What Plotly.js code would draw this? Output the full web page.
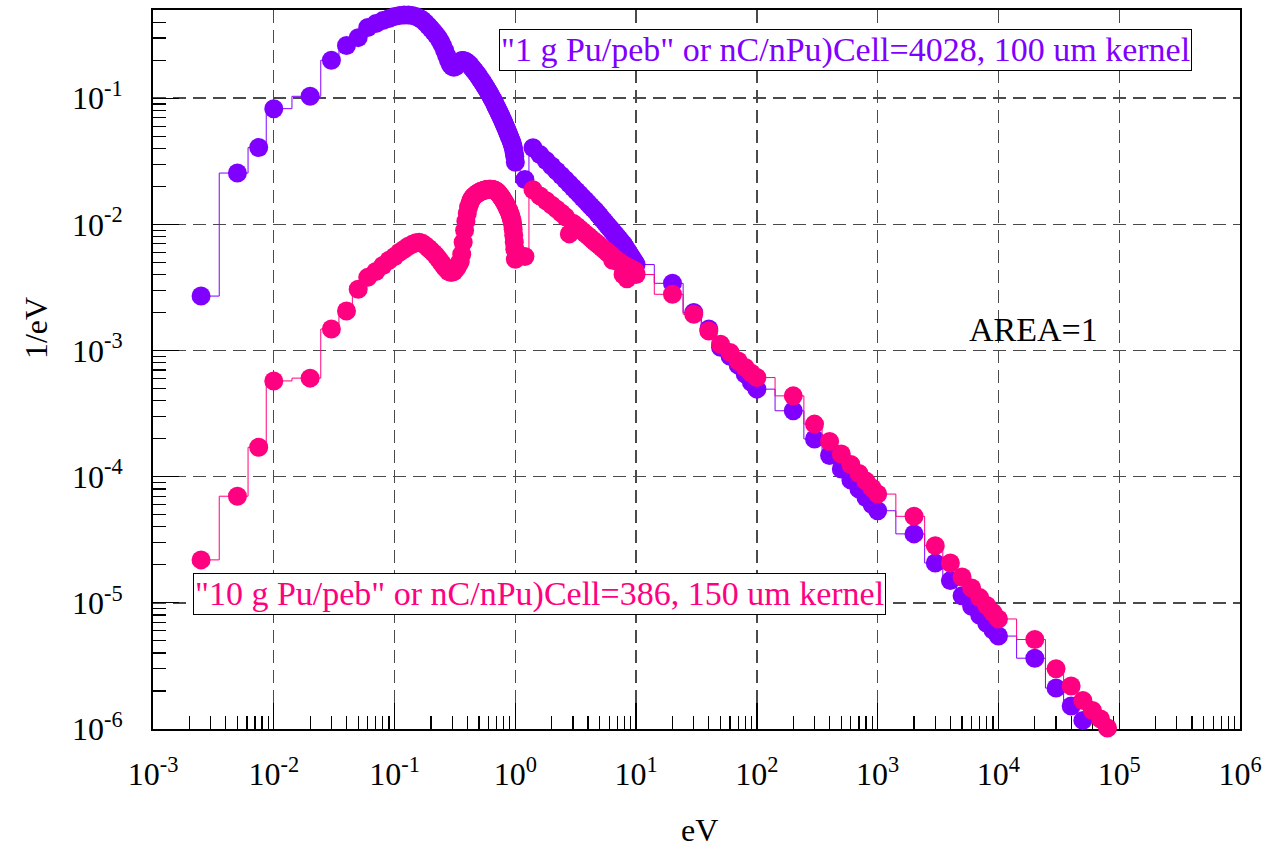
<!DOCTYPE html>
<html>
<head>
<meta charset="utf-8">
<script src="https://cdn.plot.ly/plotly-3.0.1.min.js"></script>
<style>
  html, body { margin: 0; padding: 0; background: #ffffff; }
  #chart { width: 1265px; height: 850px; }
</style>
</head>
<body>
<div id="chart"></div>
<script>
// Neutron flux spectra per unit energy (1/eV), normalised to unit area.
// Energy grid, split into the coarse, thermal, resonance and fast sections (eV).
const energyCoarse = [0.0025, 0.005, 0.0075, 0.01, 0.02, 0.03, 0.04];
const energyThermal = [
  0.05, 0.06, 0.07, 0.08, 0.09, 0.10, 0.11, 0.12, 0.13, 0.14,
  0.15, 0.16, 0.17, 0.18, 0.19, 0.20, 0.21, 0.22, 0.23, 0.24,
  0.25, 0.26, 0.27, 0.28, 0.29, 0.30, 0.31, 0.32, 0.33, 0.34,
  0.35, 0.36, 0.37, 0.38, 0.39, 0.40, 0.41, 0.42, 0.43, 0.44,
  0.45, 0.46, 0.47, 0.48, 0.49, 0.50, 0.51, 0.52, 0.53, 0.54,
  0.55, 0.56, 0.57, 0.58, 0.59, 0.60, 0.61, 0.62, 0.63, 0.64,
  0.65, 0.66, 0.67, 0.68, 0.69, 0.70, 0.71, 0.72, 0.73, 0.74,
  0.75, 0.76, 0.77, 0.78, 0.79, 0.80, 0.81, 0.82, 0.83, 0.84,
  0.85, 0.86, 0.87, 0.88, 0.89, 0.90, 0.91, 0.92, 0.93, 0.94,
  0.95, 0.96, 0.97, 0.98, 0.99, 1.00
];
const energyResonance = [
  1.2, 1.4, 1.6, 1.8, 2.0, 2.2, 2.4, 2.6, 2.8, 3.0,
  3.2, 3.4, 3.6, 3.8, 4.0, 4.2, 4.4, 4.6, 4.8, 5.0,
  5.2, 5.4, 5.6, 5.8, 6.0, 6.2, 6.4, 6.6, 6.8, 7.0,
  7.2, 7.4, 7.6, 7.8, 8.0, 8.2, 8.4, 8.6, 8.8, 9.0,
  9.2, 9.4, 9.6, 9.8, 10.0
];
const energyFast = [
  20, 30, 40, 50, 60, 70, 80, 90, 100,
  200, 300, 400, 500, 600, 700, 800, 900, 1000,
  2000, 3000, 4000, 5000, 6000, 7000, 8000, 9000, 10000,
  20000, 30000, 40000, 50000, 60000, 70000, 80000
];

// "1 g Pu/peb", nC/nPu = 4028, 100 um kernel
const flux1gCoarse = [2.70e-3, 0.0255, 0.0406, 0.0826, 0.1035, 0.200, 0.262];
const flux1gThermal = [
  0.302, 0.363, 0.390, 0.412, 0.428, 0.444, 0.452, 0.456, 0.456, 0.452,
  0.444, 0.432, 0.416, 0.397, 0.375, 0.356, 0.337, 0.319, 0.302, 0.281,
  0.261, 0.239, 0.218, 0.199, 0.185, 0.178, 0.176, 0.178, 0.183, 0.190,
  0.195, 0.199, 0.199, 0.197, 0.195, 0.191, 0.188, 0.183, 0.178, 0.173,
  0.169, 0.164, 0.160, 0.156, 0.152, 0.147, 0.143, 0.139, 0.136, 0.132,
  0.128, 0.125, 0.122, 0.118, 0.115, 0.112, 0.109, 0.106, 0.103, 0.100,
  0.0977, 0.0951, 0.0926, 0.0891, 0.0867, 0.0844, 0.0821, 0.0799, 0.0778, 0.0757,
  0.0737, 0.0717, 0.0698, 0.0678, 0.0660, 0.0642, 0.0625, 0.0608, 0.0592, 0.0576,
  0.0560, 0.0545, 0.0530, 0.0516, 0.0502, 0.0489, 0.0476, 0.0463, 0.0451, 0.0438,
  0.0422, 0.0407, 0.0389, 0.0368, 0.0345, 0.0310
];
const flux1gResonance = [
  0.0227, 0.0405, 0.0357, 0.0320, 0.0290, 0.0265, 0.0244, 0.0226, 0.0210, 0.0196,
  0.0184, 0.0173, 0.0163, 0.0155, 0.0147, 0.0140, 0.01335, 0.0128, 0.0122, 0.01165,
  0.0111, 0.01066, 0.0102, 0.0098, 0.00945, 0.0091, 0.00878, 0.00848, 0.0082, 0.0079,
  0.00767, 0.00743, 0.0072, 0.0070, 0.00674, 0.0065, 0.00625, 0.00603, 0.00583, 0.00563,
  0.00545, 0.00527, 0.0051, 0.00495, 0.0048
];
const flux1gFast = [
  3.41e-3, 2.00e-3, 1.48e-3, 1.06e-3, 9.00e-4, 7.66e-4, 6.50e-4, 5.60e-4, 4.94e-4,
  3.33e-4, 1.99e-4, 1.47e-4, 1.15e-4, 9.40e-5, 7.98e-5, 6.83e-5, 6.01e-5, 5.37e-5,
  3.52e-5, 2.07e-5, 1.50e-5, 1.14e-5, 9.38e-6, 7.96e-6, 6.89e-6, 6.10e-6, 5.45e-6,
  3.64e-6, 2.11e-6, 1.52e-6, 1.17e-6
];

// "10 g Pu/peb", nC/nPu = 386, 150 um kernel
const flux10gCoarse = [2.19e-5, 7.0e-5, 1.71e-4, 5.74e-4, 6.04e-4, 1.48e-3, 2.06e-3];
const flux10gThermal = [
  0.00306, 0.00380, 0.00423, 0.00472, 0.00519, 0.00557, 0.00600, 0.00634, 0.00670, 0.00694,
  0.00715, 0.00722, 0.00707, 0.00681, 0.00650, 0.00622, 0.00594, 0.00566, 0.00536, 0.00507,
  0.00482, 0.00456, 0.00440, 0.00423, 0.00417, 0.00417, 0.00423, 0.00440, 0.00456, 0.00482,
  0.00507, 0.00579, 0.00722, 0.00896, 0.0106, 0.0122, 0.0137, 0.0146, 0.0155, 0.0161,
  0.0166, 0.0169, 0.0172, 0.0175, 0.0177, 0.0179, 0.0181, 0.0183, 0.0184, 0.0185,
  0.0186, 0.0187, 0.0188, 0.0189, 0.0189, 0.0190, 0.0190, 0.0190, 0.0190, 0.0189,
  0.0189, 0.0188, 0.0187, 0.0186, 0.0184, 0.0182, 0.0180, 0.0178, 0.0175, 0.0172,
  0.0169, 0.0166, 0.0163, 0.0160, 0.0157, 0.0154, 0.0151, 0.0148, 0.0145, 0.0142,
  0.0139, 0.0135, 0.0132, 0.0129, 0.0126, 0.0122, 0.0118, 0.0114, 0.0110, 0.0106,
  0.0100, 0.00913, 0.00818, 0.00722, 0.00634, 0.00528
];
const flux10gResonance = [
  0.00557, 0.0188, 0.0168, 0.0154, 0.0142, 0.0132, 0.0123, 0.0115, 0.0084, 0.0102,
  0.0097, 0.00925, 0.00883, 0.00844, 0.0081, 0.00778, 0.00749, 0.00722, 0.00698, 0.00675,
  0.00654, 0.00634, 0.00616, 0.00599, 0.00583, 0.00568, 0.0052, 0.0054, 0.00527, 0.00515,
  0.00504, 0.00493, 0.00485, 0.0040, 0.00473, 0.00466, 0.0037, 0.00455, 0.0045, 0.00444,
  0.00439, 0.00435, 0.0043, 0.00425, 0.0040
];
const flux10gFast = [
  2.79e-3, 1.94e-3, 1.43e-3, 1.12e-3, 9.63e-4, 8.27e-4, 7.33e-4, 6.60e-4, 6.10e-4,
  4.37e-4, 2.61e-4, 1.90e-4, 1.51e-4, 1.25e-4, 1.06e-4, 9.22e-5, 8.12e-5, 7.28e-5,
  4.85e-5, 2.84e-5, 2.07e-5, 1.60e-5, 1.31e-5, 1.10e-5, 9.53e-6, 8.37e-6, 7.45e-6,
  5.12e-6, 3.00e-6, 2.19e-6, 1.68e-6, 1.40e-6, 1.20e-6, 1.02e-6
];

const seriesNames = [
  '"1 g Pu/peb" or nC/nPu)Cell=4028, 100 um kernel',
  '"10 g Pu/peb" or nC/nPu)Cell=386, 150 um kernel'
];
const seriesColors = ['#8000ff', '#ff0080'];

const xTickVals = [1e-3, 1e-2, 1e-1, 1e0, 1e1, 1e2, 1e3, 1e4, 1e5, 1e6];
const xTickText = ['10<sup>-3</sup>', '10<sup>-2</sup>', '10<sup>-1</sup>', '10<sup>0</sup>',
  '10<sup>1</sup>', '10<sup>2</sup>', '10<sup>3</sup>', '10<sup>4</sup>', '10<sup>5</sup>', '10<sup>6</sup>'];
const yTickVals = [1e-6, 1e-5, 1e-4, 1e-3, 1e-2, 1e-1];
const yTickText = ['10<sup>-6</sup>', '10<sup>-5</sup>', '10<sup>-4</sup>', '10<sup>-3</sup>',
  '10<sup>-2</sup>', '10<sup>-1</sup>'];

const energy = [].concat(energyCoarse, energyThermal, energyResonance, energyFast);
const flux1g = [].concat(flux1gCoarse, flux1gThermal, flux1gResonance, flux1gFast);
const flux10g = [].concat(flux10gCoarse, flux10gThermal, flux10gResonance, flux10gFast);

const FONT = 'Liberation Serif, Times New Roman, serif';

function spectrum(values, i) {
  return {
    type: 'scatter',
    mode: 'lines+markers',
    name: seriesNames[i],
    x: energy.slice(0, values.length),
    y: values,
    line: { shape: 'hvh', color: seriesColors[i], width: 1 },
    marker: { symbol: 'circle', size: 19, color: seriesColors[i], line: { width: 0 } },
    cliponaxis: false,
    showlegend: false
  };
}

const gridStyle = { showgrid: true, gridcolor: '#4a4a4a', gridwidth: 1.4, griddash: '13px,7px' };

const layout = {
  width: 1265,
  height: 850,
  margin: { l: 153, r: 25, t: 10, b: 121, pad: 0 },
  paper_bgcolor: '#ffffff',
  plot_bgcolor: '#ffffff',
  font: { family: FONT, size: 32, color: '#000000' },
  xaxis: Object.assign({
    type: 'log',
    range: [-3, 6],
    tickmode: 'array',
    tickvals: xTickVals,
    ticktext: xTickText,
    ticks: 'inside',
    ticklen: 26,
    tickwidth: 1.3,
    tickcolor: '#000000',
    minor: { ticks: 'inside', ticklen: 13, tickwidth: 1.2, tickcolor: '#000000', dtick: 'D1', showgrid: false },
    showline: true,
    linecolor: '#000000',
    linewidth: 2,
    mirror: true,
    zeroline: false,
    layer: 'below traces',
    ticklabelstandoff: 16,
    tickfont: { family: FONT, size: 32, color: '#000000' }
  }, gridStyle),
  yaxis: Object.assign({
    type: 'log',
    range: [-6, Math.log10(0.5)],
    tickmode: 'array',
    tickvals: yTickVals,
    ticktext: yTickText,
    ticks: 'inside',
    ticklen: 26,
    tickwidth: 1.3,
    tickcolor: '#000000',
    minor: { ticks: 'inside', ticklen: 13, tickwidth: 1.2, tickcolor: '#000000', dtick: 'D1', showgrid: false },
    showline: true,
    linecolor: '#000000',
    linewidth: 2,
    mirror: true,
    zeroline: false,
    layer: 'below traces',
    ticklabelstandoff: 22,
    tickfont: { family: FONT, size: 32, color: '#000000' }
  }, gridStyle),
  annotations: [
    {
      xref: 'paper', yref: 'paper', x: 0.637, y: 0.9437,
      xanchor: 'center', yanchor: 'middle', showarrow: false,
      text: seriesNames[0],
      font: { family: FONT, size: 34, color: seriesColors[0] },
      bordercolor: '#000000', borderwidth: 1, borderpad: 1, bgcolor: '#ffffff'
    },
    {
      xref: 'paper', yref: 'paper', x: 0.3556, y: 0.1878,
      xanchor: 'center', yanchor: 'middle', showarrow: false,
      text: seriesNames[1],
      font: { family: FONT, size: 34, color: seriesColors[1] },
      bordercolor: '#000000', borderwidth: 1, borderpad: 1, bgcolor: '#ffffff'
    },
    {
      xref: 'paper', yref: 'paper', x: 0.8096, y: 0.5563,
      xanchor: 'center', yanchor: 'middle', showarrow: false,
      text: 'AREA=1',
      font: { family: FONT, size: 34, color: '#000000' }
    },
    {
      xref: 'paper', yref: 'paper', x: 0.5032, y: -0.1405,
      xanchor: 'center', yanchor: 'middle', showarrow: false,
      text: 'eV',
      font: { family: FONT, size: 32, color: '#000000' }
    },
    {
      xref: 'paper', yref: 'paper', x: -0.1076, y: 0.5577,
      xanchor: 'center', yanchor: 'middle', showarrow: false,
      textangle: -90,
      text: '1/eV',
      font: { family: FONT, size: 32, color: '#000000' }
    }
  ]
};

Plotly.newPlot('chart', [spectrum(flux1g, 0), spectrum(flux10g, 1)], layout,
  { displayModeBar: false, staticPlot: true });
</script>
</body>
</html>
